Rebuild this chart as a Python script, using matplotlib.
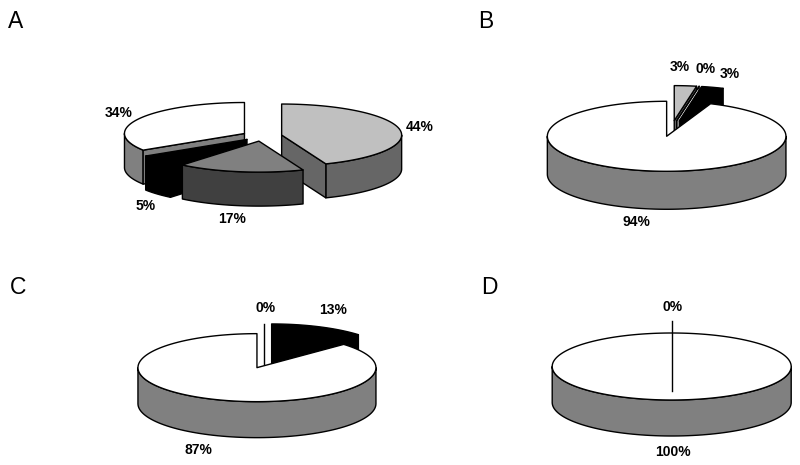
import numpy as np
import matplotlib
matplotlib.use("Agg")
import matplotlib.pyplot as plt
from matplotlib.patches import Polygon

plt.rcParams['font.family'] = ['Liberation Sans', 'DejaVu Sans']

# slice values in percent, clockwise from 12 o'clock
values_a = [44, 17, 5, 34]
values_b = [3, 0, 3, 94]
values_c = [0, 13, 87]
values_d = [0, 100]

# colours of each slice (top, side)
tops_a = ['#c0c0c0', '#808080', '#000000', '#ffffff']
sides_a = ['#666666', '#404040', '#000000', '#808080']
tops_b = ['#c0c0c0', '#ffffff', '#000000', '#ffffff']
sides_b = ['#666666', '#ffffff', '#000000', '#808080']
tops_c = ['#ffffff', '#000000', '#ffffff']
sides_c = ['#ffffff', '#000000', '#808080']
tops_d = ['#ffffff', '#ffffff']
sides_d = ['#ffffff', '#808080']


def rim(ax_x, ax_y, theta, rx, ry):
    t = np.radians(theta)
    return ax_x + rx * np.sin(t), ax_y - ry * np.cos(t)


def draw_pie(ax, values, tops, sides, cx, cy, rx, ry, depth, explode):
    total = sum(values)
    ends = np.cumsum(values) / total * 360
    starts = ends - np.array(values) / total * 360
    mids = (starts + ends) / 2

    # back slices first, a full circle goes under everything
    order = sorted(range(len(values)), key=lambda i: (values[i] < total, -np.cos(np.radians(mids[i]))))

    for z, i in enumerate(order):
        a, b = starts[i], ends[i]
        m = np.radians(mids[i])
        px = cx + explode * np.sin(m)
        py = cy - explode * ry / rx * np.cos(m)
        style = dict(edgecolor='black', linewidth=1.0, joinstyle='round', zorder=z + 1)

        # outer wall, only the front half can be seen
        lo, hi = max(a, 90), min(b, 270)
        if hi > lo:
            th = np.linspace(lo, hi, 80)
            xs, ys = rim(px, py, th, rx, ry)
            pts = np.r_[np.c_[xs, ys], np.c_[xs[::-1], ys[::-1] + depth]]
            ax.add_patch(Polygon(pts, closed=True, facecolor=sides[i], **style))

        # radial walls
        if values[i] < total:
            if np.sin(np.radians(a)) < -1e-6:
                x1, y1 = rim(px, py, a, rx, ry)
                pts = [(px, py), (x1, y1), (x1, y1 + depth), (px, py + depth)]
                ax.add_patch(Polygon(pts, closed=True, facecolor=sides[i], **style))
            if np.sin(np.radians(b)) > 1e-6:
                x1, y1 = rim(px, py, b, rx, ry)
                pts = [(px, py), (x1, y1), (x1, y1 + depth), (px, py + depth)]
                ax.add_patch(Polygon(pts, closed=True, facecolor=sides[i], **style))

        # top surface
        if values[i] == 0:
            x1, y1 = rim(px, py, a, rx, ry)
            ax.plot([x1, px, px], [y1, py, py + depth], color='black', lw=1.0, zorder=z + 1)
        else:
            th = np.linspace(a, b, 200)
            xs, ys = rim(px, py, th, rx, ry)
            pts = np.c_[xs, ys]
            if values[i] < total:
                pts = np.r_[[[px, py]], pts]
            ax.add_patch(Polygon(pts, closed=True, facecolor=tops[i], **style))


fig = plt.figure(figsize=(8, 4.65), dpi=100)
ax = fig.add_axes([0, 0, 1, 1])
ax.set_xlim(0, 800)
ax.set_ylim(465, 0)
ax.axis('off')

draw_pie(ax, values_a, tops_a, sides_a, 262, 136, 120, 31, 34, 20)
draw_pie(ax, values_b, tops_b, sides_b, 671.7, 128.5, 119.3, 35, 38, 27)
draw_pie(ax, values_c, tops_c, sides_c, 264.3, 362.8, 119, 34, 36, 18.5)
draw_pie(ax, values_d, tops_d, sides_d, 671.7, 360.5, 119.5, 33.5, 36, 21.4)

# percent labels
for v, x, y in zip(values_a, [420, 232, 146, 119], [127, 219, 206, 113]):
    ax.text(x, y, f"{v}%", ha='center', va='center', fontsize=10, fontweight='bold', zorder=10)
for v, x, y in zip(values_b, [680, 706, 730, 636], [67, 69, 74, 222]):
    ax.text(x, y, f"{v}%", ha='center', va='center', fontsize=10, fontweight='bold', zorder=10)
for v, x, y in zip(values_c, [266, 333, 198], [308, 310, 450]):
    ax.text(x, y, f"{v}%", ha='center', va='center', fontsize=10, fontweight='bold', zorder=10)
for v, x, y in zip(values_d, [673, 673], [307, 452]):
    ax.text(x, y, f"{v}%", ha='center', va='center', fontsize=10, fontweight='bold', zorder=10)

# panel letters
for s, x, y in zip("ABCD", [16, 486, 18, 489], [21, 21, 287, 287]):
    ax.text(x, y, s, ha='center', va='center', fontsize=16.5, zorder=10)

fig.savefig("out.png", dpi=100)
